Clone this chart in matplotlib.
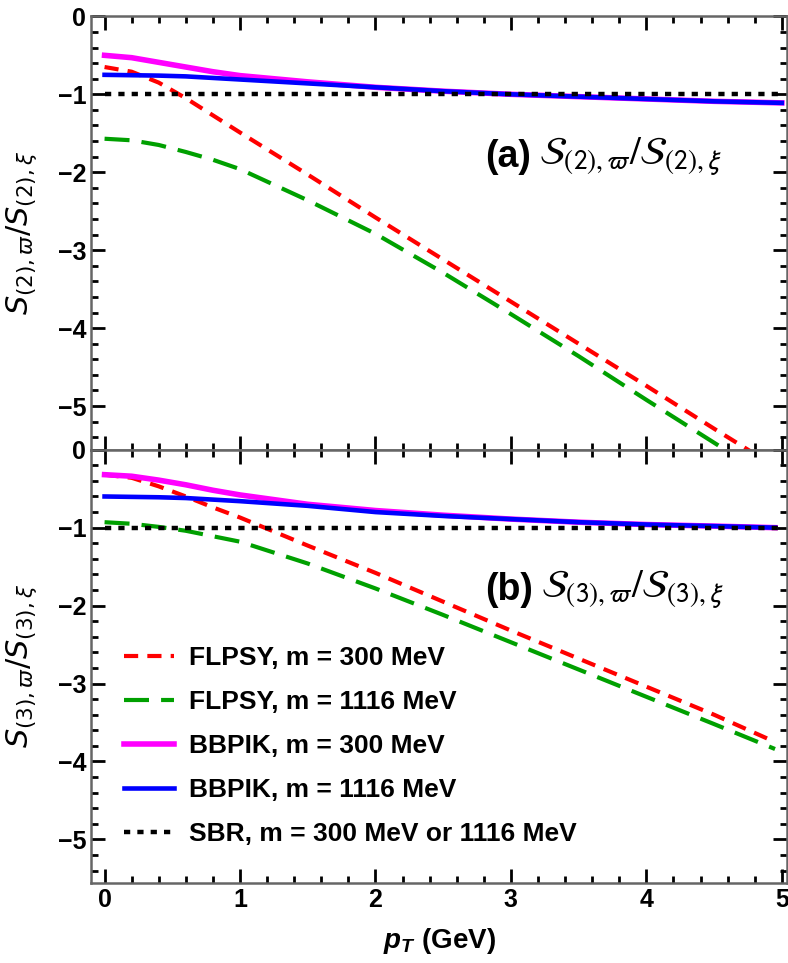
import matplotlib
matplotlib.use("Agg")
import matplotlib.pyplot as plt
from matplotlib.ticker import MultipleLocator

plt.rcParams['font.family'] = 'Liberation Sans'
plt.rcParams['mathtext.fontset'] = 'stixsans'
# fonts for the 'custom' math family (x label only)
plt.rcParams['mathtext.it'] = 'Liberation Sans:italic:bold'
plt.rcParams['mathtext.rm'] = 'Liberation Sans:bold'

# panel (a): S(2) ratio
pt_a = [0, 0.2, 0.4, 0.6, 0.8, 1.0, 1.5, 2.0, 2.5, 3.0, 3.5, 4.0, 4.5, 5.0]
flpsy300_a = [-0.65, -0.71, -0.85, -1.05, -1.27, -1.49, -2.03, -2.58, -3.12,
              -3.66, -4.20, -4.74, -5.29, -5.83]
flpsy1116_a = [-1.57, -1.59, -1.65, -1.74, -1.84, -1.96, -2.36, -2.79, -3.29,
               -3.82, -4.36, -4.92, -5.47, -6.02]
bbpik300_a = [-0.50, -0.53, -0.59, -0.65, -0.71, -0.76, -0.84, -0.91, -0.96,
              -1.00, -1.03, -1.06, -1.09, -1.11]
bbpik1116_a = [-0.75, -0.755, -0.76, -0.77, -0.79, -0.81, -0.86, -0.91, -0.96,
               -1.00, -1.03, -1.06, -1.09, -1.11]

# panel (b): S(3) ratio
pt_b = [0, 0.2, 0.4, 0.6, 0.8, 1.0, 1.5, 2.0, 2.5, 3.0, 3.5, 4.0, 4.5, 4.95]
flpsy300_b = [-0.32, -0.36, -0.47, -0.60, -0.74, -0.87, -1.23, -1.58, -1.95,
              -2.32, -2.68, -3.04, -3.40, -3.75]
flpsy1116_b = [-0.93, -0.95, -0.99, -1.04, -1.11, -1.18, -1.46, -1.78, -2.12,
               -2.47, -2.82, -3.17, -3.52, -3.84]
bbpik300_b = [-0.32, -0.34, -0.39, -0.45, -0.52, -0.58, -0.70, -0.78, -0.84,
              -0.89, -0.93, -0.96, -0.98, -1.00]
bbpik1116_b = [-0.60, -0.605, -0.61, -0.62, -0.64, -0.66, -0.72, -0.80, -0.85,
               -0.89, -0.93, -0.96, -0.98, -1.00]

sbr_x = [0, 5]
sbr_y = [-1, -1]

labels = ["FLPSY, m = 300 MeV", "FLPSY, m = 1116 MeV", "BBPIK, m = 300 MeV",
          "BBPIK, m = 1116 MeV", "SBR, m = 300 MeV or 1116 MeV"]

fig = plt.figure(figsize=(7.88, 9.63), dpi=100)
ax_a = fig.add_axes([0.1155, 0.533, 0.8835, 0.45])
ax_b = fig.add_axes([0.1155, 0.083, 0.8835, 0.45])

panels = [
    (ax_a, pt_a, flpsy300_a, flpsy1116_a, bbpik300_a, bbpik1116_a,
     r'$S_{(2),\varpi}/S_{(2),\xi}$', '(a)',
     r'$\mathcal{S}_{(2),\varpi}/\mathcal{S}_{(2),\xi}$'),
    (ax_b, pt_b, flpsy300_b, flpsy1116_b, bbpik300_b, bbpik1116_b,
     r'$S_{(3),\varpi}/S_{(3),\xi}$', '(b)',
     r'$\mathcal{S}_{(3),\varpi}/\mathcal{S}_{(3),\xi}$'),
]

for ax, x, r, g, m, b, ylab, tag, tagmath in panels:
    ax.plot(x, r, color='#ff0000', lw=3.0, ls=(0, (3.4, 2.2)), label=labels[0])
    ax.plot(x, g, color='#00a000', lw=3.0, ls=(0, (6.0, 2.9)), label=labels[1])
    ax.plot(x, m, color='#ff00ff', lw=4.0, label=labels[2])
    ax.plot(x, b, color='#0000ff', lw=3.3, label=labels[3])
    ax.plot(sbr_x, sbr_y, color='black', lw=3.2, ls=(0, (1.4, 1.6)), label=labels[4])
    ax.set_xlim(-0.1, 5.04)
    ax.set_ylim(-5.56, 0)
    ax.xaxis.set_major_locator(MultipleLocator(1))
    ax.xaxis.set_minor_locator(MultipleLocator(0.2))
    ax.yaxis.set_major_locator(MultipleLocator(1))
    ax.yaxis.set_minor_locator(MultipleLocator(0.2))
    ax.tick_params(which='both', direction='in', top=True, right=True,
                   colors='black', labelsize=18)
    ax.tick_params(which='major', length=10, width=2)
    ax.tick_params(which='minor', length=5, width=2)
    for sp in ax.spines.values():
        sp.set_color('#666666')
        sp.set_linewidth(1.8)
    for lab in ax.get_xticklabels() + ax.get_yticklabels():
        lab.set_fontweight('bold')
    ax.set_ylabel(ylab, fontsize=22, math_fontfamily='dejavusans')
    ax.yaxis.set_label_coords(-0.075, 0.5)
    t = ax.text(2.81, -1.8, tag, fontsize=27, fontweight='bold', ha='left', va='center')
    ax.annotate(tagmath, xy=(1, 0.5), xycoords=t, xytext=(6, 0),
                textcoords='offset points', fontsize=28, ha='left', va='center')

ax_a.tick_params(labelbottom=False)
ax_b.set_xlabel(r'$p_T\ \mathrm{(GeV)}$', fontsize=20, math_fontfamily='custom',
                labelpad=10)

ax_b.legend(loc='lower left', bbox_to_anchor=(0.047, 0.085), frameon=False,
            prop={'size': 19, 'weight': 'bold'}, handlelength=1.9,
            handletextpad=0.57, labelspacing=0.76, borderpad=0, borderaxespad=0)

fig.savefig("out.png", dpi=100)
